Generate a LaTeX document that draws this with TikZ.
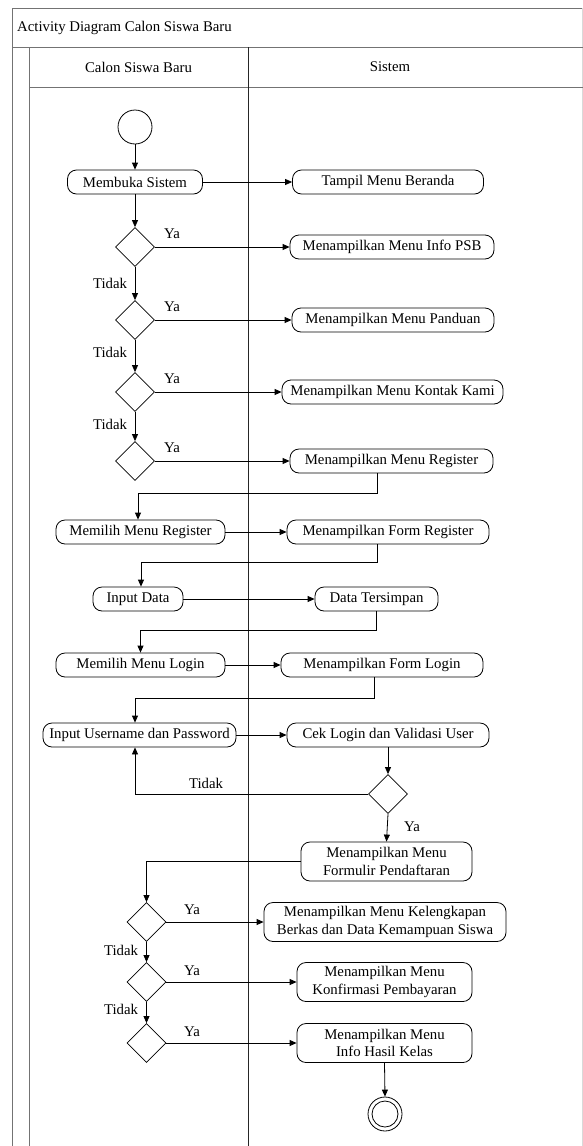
\documentclass[tikz,border=0pt]{standalone}
\usepackage{fontspec}
\setmainfont{Liberation Serif}
\usetikzlibrary{arrows.meta,shapes.geometric}
\newcommand\fsz{\fontsize{14.8}{17.7}\selectfont}
\begin{document}
\begin{tikzpicture}[x=1pt,y=-1pt,
 act/.style={draw, line width=0.8pt, rounded corners=9pt, minimum height=24pt, inner sep=1pt, font=\fsz, align=center},
 act2/.style={act, minimum height=39pt},
 dec/.style={draw, line width=0.8pt, diamond, minimum width=39pt, minimum height=39pt, inner sep=0pt},
 lbl/.style={font=\fsz, inner sep=0pt},
 flow/.style={draw, line width=0.8pt, -{Triangle[length=7pt,width=6pt]}},
 frame/.style={draw=black!55, line width=1pt},
 lane/.style={draw=black!85, line width=0.9pt}]
\useasboundingbox (0,0) rectangle (583,1146);
% frame
\draw[frame] (12,1146) -- (12,8) -- (583,8);
\draw[black!15, line width=0.8pt] (582,8) -- (582,1146);
\draw[frame] (12,47) -- (583,47);
\draw[frame] (29,1146) -- (29,47);
\draw[frame] (29,87) -- (583,87);
\draw[lane] (248,47) -- (248,1146);
\node[lbl, anchor=west] (title) at (17,28) {Activity Diagram Calon Siswa Baru};
\node[lbl] (lane1) at (138.5,67) {Calon Siswa Baru};
\node[lbl] (lane2) at (390,67) {Sistem};
% nodes
\node[draw, line width=0.8pt, circle, minimum size=34pt, inner sep=0pt] (start) at (135,127) {};
\node[act, minimum width=135pt] (n1) at (135,182) {Membuka Sistem};
\node[act, minimum width=191pt] (s1) at (388,182) {Tampil Menu Beranda};
\node[dec] (d1) at (135,247) {};
\node[act, minimum width=204pt] (s2) at (392,247) {Menampilkan Menu Info PSB};
\node[dec] (d2) at (135,320) {};
\node[act, minimum width=202pt] (s3) at (393,320) {Menampilkan Menu Panduan};
\node[dec] (d3) at (135,392) {};
\node[act, minimum width=221pt] (s4) at (392.5,392) {Menampilkan Menu Kontak Kami};
\node[dec] (d4) at (135,461) {};
\node[act, minimum width=203pt] (s5) at (391.5,461) {Menampilkan Menu Register};
\node[act, minimum width=169pt] (n2) at (140.5,532) {Memilih Menu Register};
\node[act, minimum width=202pt] (s6) at (388,532) {Menampilkan Form Register};
\node[act, minimum width=90pt] (n3) at (138,599) {Input Data};
\node[act, minimum width=123pt] (s7) at (376.5,599) {Data Tersimpan};
\node[act, minimum width=169pt] (n4) at (140.5,665) {Memilih Menu Login};
\node[act, minimum width=202pt] (s8) at (382,665) {Menampilkan Form Login};
\node[act, minimum width=193pt] (n5) at (139.5,735) {Input Username dan Password};
\node[act, minimum width=202pt] (s9) at (388,735) {Cek Login dan Validasi User};
\node[dec] (d5) at (388,794) {};
\node[act2, minimum width=171pt] (s10) at (386.5,861.5) {Menampilkan Menu\\Formulir Pendaftaran};
\node[dec] (d6) at (146.5,922) {};
\node[act2, minimum width=242pt] (s11) at (385,922) {Menampilkan Menu Kelengkapan\\Berkas dan Data Kemampuan Siswa};
\node[dec] (d7) at (146.5,982) {};
\node[act2, minimum width=175pt] (s12) at (384.5,982) {Menampilkan Menu\\Konfirmasi Pembayaran};
\node[dec] (d8) at (146.5,1043) {};
\node[act2, minimum width=175pt] (s13) at (384.5,1043) {Menampilkan Menu\\Info Hasil Kelas};
\node[draw, line width=0.8pt, circle, minimum size=34pt, inner sep=0pt] (end) at (385,1114) {};
\node[draw, line width=0.8pt, circle, minimum size=26pt, inner sep=0pt] (endin) at (end) {};
% labels
\node[lbl] (y1) at (172,234) {Ya};
\node[lbl] (t1) at (110,283) {Tidak};
\node[lbl] (y2) at (172,307) {Ya};
\node[lbl] (t2) at (110,352) {Tidak};
\node[lbl] (y3) at (172,379) {Ya};
\node[lbl] (t3) at (110,424) {Tidak};
\node[lbl] (y4) at (172,448) {Ya};
\node[lbl] (t5) at (206,783) {Tidak};
\node[lbl] (y5) at (412,827) {Ya};
\node[lbl] (y6) at (192,910) {Ya};
\node[lbl] (t6) at (121,950) {Tidak};
\node[lbl] (y7) at (192,971) {Ya};
\node[lbl] (t7) at (121,1009) {Tidak};
\node[lbl] (y8) at (192,1032) {Ya};
% connectors
\draw[flow] (start) -- (n1);
\draw[flow] (n1) -- (s1);
\draw[flow] (n1) -- (d1);
\draw[flow] (d1.east) -- (s2.west);
\draw[flow] (d1.south) -- (d2.north);
\draw[flow] (d2.east) -- (s3.west);
\draw[flow] (d2.south) -- (d3.north);
\draw[flow] (d3.east) -- (s4.west);
\draw[flow] (d3.south) -- (d4.north);
\draw[flow] (d4.east) -- (s5.west);
\draw[flow] ([xshift=-14.5pt]s5.south) -- ++(0,20) -| ([xshift=-2.5pt]n2.north);
\draw[flow] (n2) -- (s6);
\draw[flow] ([xshift=-11pt]s6.south) -- ++(0,18) -| ([xshift=3pt]n3.north);
\draw[flow] (n3) -- (s7);
\draw[flow] (s7.south) -- ++(0,19) -| (n4.north);
\draw[flow] (n4) -- (s8);
\draw[flow] ([xshift=-8pt]s8.south) -- ++(0,21) -| ([xshift=-4.5pt]n5.north);
\draw[flow] (n5) -- (s9);
\draw[flow] (s9.south) -- (d5.north);
\draw[flow] (d5.west) -| ([xshift=-4.5pt]n5.south);
\draw[flow] (d5.south) -- (s10.north);
\draw[flow] (s10.west) -| (d6.north);
\draw[flow] (d6.east) -- (s11.west);
\draw[flow] (d6.south) -- (d7.north);
\draw[flow] (d7.east) -- (s12.west);
\draw[flow] (d7.south) -- (d8.north);
\draw[flow] (d8.east) -- (s13.west);
\draw[flow] (s13.south) -- (end.north);
\end{tikzpicture}
\end{document}
